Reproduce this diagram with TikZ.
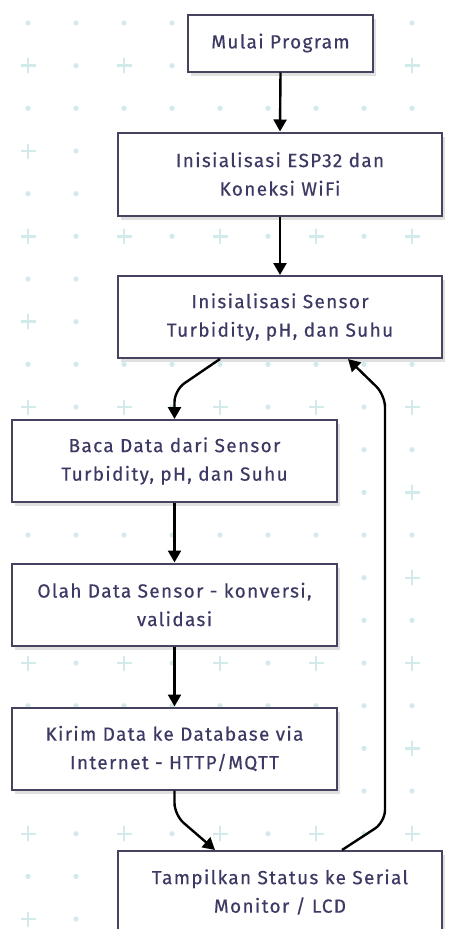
\documentclass[tikz,border=0pt]{standalone}
\usepackage{fontspec}
\setmainfont{Fira Sans}[LetterSpace=7,FakeBold=0.4]
\usetikzlibrary{arrows.meta,shadows}
\definecolor{boxc}{HTML}{46435E}
\definecolor{txtc}{HTML}{3C3A64}
\definecolor{bgc}{HTML}{D3EAED}
\tikzset{
  box/.style={draw=boxc, line width=2pt, fill=white, align=center, text=txtc,
    font=\fontsize{19}{28.5}\selectfont, inner sep=0pt,
    drop shadow={shadow xshift=3pt, shadow yshift=-4pt, fill=black!12, opacity=1}},
  arr/.style={draw=black, line width=2.4pt, -{Triangle[length=12pt,width=13pt]}},
  bgplus/.style={draw=bgc, line width=2.4pt},
  bgdot/.style={fill=bgc}
}
\begin{document}
\begin{tikzpicture}[x=1pt,y=-1pt]
\useasboundingbox (0,0) rectangle (452,929);
\clip (0,0) rectangle (452,929);
\fill[white] (0,0) rectangle (452,929);
% background pattern
\foreach \r in {0,...,21}{
  \foreach \c in {0,...,8}{
    \pgfmathsetmacro{\xx}{28+48*\c}
    \pgfmathsetmacro{\yy}{23+42.67*\r}
    \pgfmathtruncatemacro{\isplus}{and(isodd(\r),iseven(\c))}
    \ifnum\isplus=1
      \draw[bgplus] (\xx-7.5,\yy) -- (\xx+7.5,\yy) (\xx,\yy-7.5) -- (\xx,\yy+7.5);
    \else
      \fill[bgdot] (\xx,\yy) circle (2.6pt);
    \fi
  }
}
% nodes
\node[box, minimum width=185pt, minimum height=57pt] (n1) at (280.5,43) {Mulai Program};
\node[box, minimum width=324pt, minimum height=83pt] (n2) at (280,174) {Inisialisasi ESP32 dan\\Koneksi WiFi};
\node[box, minimum width=324pt, minimum height=82pt] (n3) at (280,317) {Inisialisasi Sensor\\Turbidity, pH, dan Suhu};
\node[box, minimum width=325pt, minimum height=82pt] (n4) at (174.5,461) {Baca Data dari Sensor\\Turbidity, pH, dan Suhu};
\node[box, minimum width=325pt, minimum height=82pt] (n5) at (174.5,604.5) {Olah Data Sensor - konversi,\\validasi};
\node[box, minimum width=325pt, minimum height=82pt] (n6) at (174.5,748.5) {Kirim Data ke Database via\\Internet - HTTP/MQTT};
\node[box, minimum width=324pt, minimum height=82pt] (n7) at (280,892) {Tampilkan Status ke Serial\\Monitor / LCD};
% connectors
\coordinate (c3) at (174.5,390);
\coordinate (c6) at (174.5,815);
\coordinate (c7a) at (385,822);
\coordinate (c7b) at (385,395);
\draw[arr] (n1.south) -- (n2.north);
\draw[arr] (n2.south) -- (n3.north);
\draw[arr, rounded corners=12pt] ([xshift=-60pt]n3.south) -- (c3) -- (n4.north);
\draw[arr] (n4.south) -- (n5.north);
\draw[arr] (n5.south) -- (n6.north);
\draw[arr, rounded corners=12pt] (n6.south) -- (c6) -- ([xshift=-65pt]n7.north);
\draw[arr, rounded corners=12pt] ([xshift=62pt]n7.north) -- (c7a) -- (c7b) -- ([xshift=68pt]n3.south);
\end{tikzpicture}
\end{document}
